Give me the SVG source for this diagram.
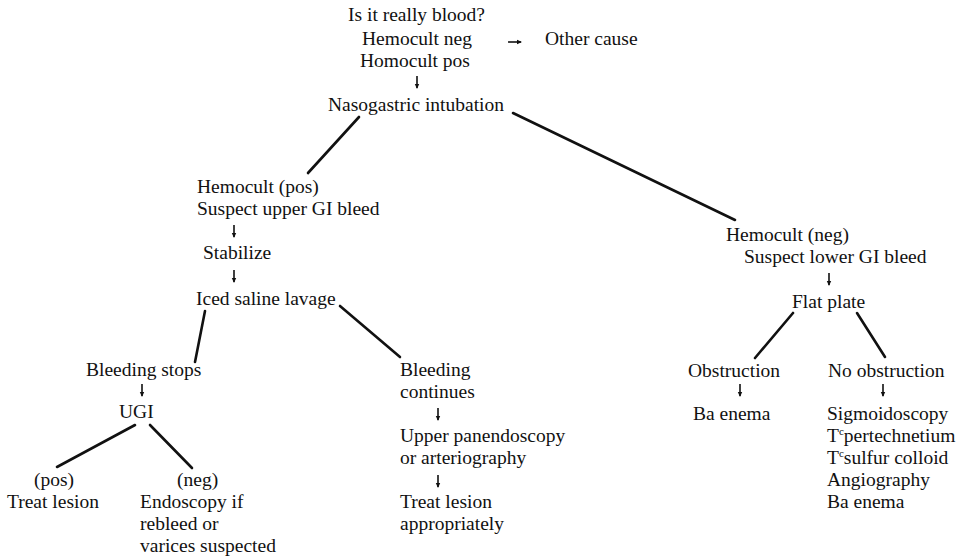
<svg xmlns="http://www.w3.org/2000/svg" width="962" height="557" viewBox="0 0 962 557">
<defs>
<style>
text{font-family:"Liberation Serif","Times New Roman",serif;font-size:19.5px;fill:#111;}
.ln{stroke:#111;stroke-width:2.6;stroke-linecap:round;fill:none;}
.ar{stroke:#111;stroke-width:1.6;fill:none;marker-end:url(#ah);}
.sup{font-size:11px;}
</style>
<marker id="ah" markerWidth="6" markerHeight="6" refX="4" refY="3" orient="auto" markerUnits="userSpaceOnUse">
<path d="M0,0.8 L5,3 L0,5.2 Z" fill="#111"/>
</marker>
</defs>
<rect width="962" height="557" fill="#fff"/>
<g id="connectors">
<line class="ar" x1="508" y1="42" x2="521" y2="42"/>
<line class="ar" x1="417" y1="76" x2="417" y2="88"/>
<line class="ln" x1="359" y1="117" x2="308" y2="173"/>
<line class="ln" x1="513" y1="113" x2="735" y2="220"/>
<line class="ar" x1="234" y1="225" x2="234" y2="237"/>
<line class="ar" x1="234" y1="270" x2="234" y2="282"/>
<line class="ln" x1="205" y1="311" x2="195" y2="362"/>
<line class="ln" x1="340" y1="306" x2="400" y2="357"/>
<line class="ar" x1="142" y1="384" x2="142" y2="396"/>
<line class="ln" x1="135" y1="425" x2="57" y2="467"/>
<line class="ln" x1="150" y1="425" x2="192" y2="468"/>
<line class="ar" x1="438" y1="408" x2="438" y2="420"/>
<line class="ar" x1="438" y1="475" x2="438" y2="487"/>
<line class="ar" x1="829" y1="273" x2="829" y2="285"/>
<line class="ln" x1="793" y1="313" x2="755" y2="358"/>
<line class="ln" x1="857" y1="313" x2="885" y2="357"/>
<line class="ar" x1="740" y1="384" x2="740" y2="396"/>
<line class="ar" x1="883" y1="384" x2="883" y2="396"/>
</g>
<g id="n-blood">
<text x="348" y="21">Is it really blood?</text>
<text x="362" y="45">Hemocult neg</text>
<text x="360" y="67">Homocult pos</text>
</g>
<g id="n-other"><text x="545" y="45">Other cause</text></g>
<g id="n-ng"><text x="328" y="111">Nasogastric intubation</text></g>
<g id="n-upper">
<text x="197" y="193">Hemocult (pos)</text>
<text x="197" y="215">Suspect upper GI bleed</text>
</g>
<g id="n-stab"><text x="203" y="259">Stabilize</text></g>
<g id="n-iced"><text x="196" y="305">Iced saline lavage</text></g>
<g id="n-stops"><text x="86" y="376">Bleeding stops</text></g>
<g id="n-ugi"><text x="119" y="418">UGI</text></g>
<g id="n-pos">
<text x="34" y="486">(pos)</text>
<text x="7" y="508">Treat lesion</text>
</g>
<g id="n-neg">
<text x="177" y="486">(neg)</text>
<text x="140" y="508">Endoscopy if</text>
<text x="140" y="530">rebleed or</text>
<text x="140" y="552">varices suspected</text>
</g>
<g id="n-cont">
<text x="400" y="376">Bleeding</text>
<text x="400" y="398">continues</text>
</g>
<g id="n-panendo">
<text x="400" y="442">Upper panendoscopy</text>
<text x="400" y="464">or arteriography</text>
</g>
<g id="n-treat">
<text x="400" y="508">Treat lesion</text>
<text x="400" y="530">appropriately</text>
</g>
<g id="n-lower">
<text x="726" y="241">Hemocult (neg)</text>
<text x="744" y="263">Suspect lower GI bleed</text>
</g>
<g id="n-flat"><text x="792" y="308">Flat plate</text></g>
<g id="n-obs"><text x="688" y="377">Obstruction</text></g>
<g id="n-baenema"><text x="693" y="420">Ba enema</text></g>
<g id="n-noobs"><text x="828" y="377">No obstruction</text></g>
<g id="n-tests">
<text x="827" y="420">Sigmoidoscopy</text>
<text x="827" y="442">T<tspan class="sup" dy="-7">c</tspan><tspan dy="7">pertechnetium</tspan></text>
<text x="827" y="464">T<tspan class="sup" dy="-7">c</tspan><tspan dy="7">sulfur colloid</tspan></text>
<text x="827" y="486">Angiography</text>
<text x="827" y="508">Ba enema</text>
</g>
</svg>
